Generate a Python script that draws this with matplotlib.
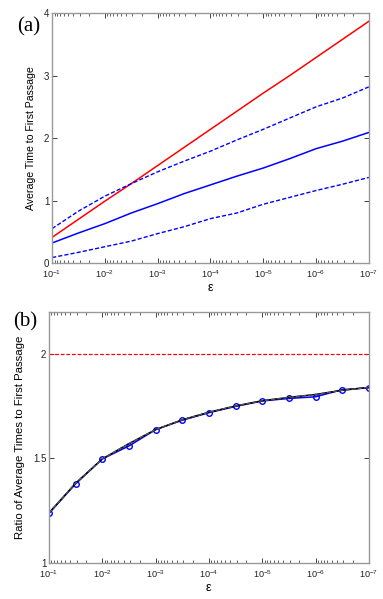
import matplotlib
matplotlib.use("Agg")
import matplotlib.pyplot as plt
import numpy as np
from matplotlib.ticker import NullFormatter, FixedLocator, FuncFormatter

plt.rcParams['font.family'] = ['Liberation Sans', 'DejaVu Sans']
plt.rcParams['mathtext.fontset'] = 'custom'
plt.rcParams['mathtext.rm'] = 'Liberation Sans'
plt.rcParams['mathtext.it'] = 'Liberation Sans:italic'
plt.rcParams['axes.unicode_minus'] = False

# epsilon values (10^-1 ... 10^-7 in half-decade steps)
eps_exp = [1, 1.5, 2, 2.5, 3, 3.5, 4, 4.5, 5, 5.5, 6, 6.5, 7]
eps = [10.0 ** (-e) for e in eps_exp]

# panel (a)
red_a = [0.41, 0.70, 0.99, 1.27, 1.56, 1.85, 2.14, 2.43, 2.72, 3.00, 3.29, 3.58, 3.87]
blue_mean = [0.32, 0.48, 0.63, 0.80, 0.95, 1.11, 1.25, 1.39, 1.52, 1.67, 1.83, 1.95, 2.09]
blue_upper = [0.55, 0.83, 1.07, 1.27, 1.46, 1.63, 1.79, 1.97, 2.14, 2.32, 2.50, 2.64, 2.82]
blue_lower = [0.087, 0.17, 0.26, 0.35, 0.47, 0.58, 0.71, 0.80, 0.94, 1.05, 1.16, 1.26, 1.37]

# panel (b)
ratio_blue = [1.238, 1.379, 1.498, 1.560, 1.638, 1.683, 1.719, 1.749, 1.775, 1.787, 1.795, 1.829, 1.838]
ratio_black = [1.240, 1.382, 1.498, 1.571, 1.638, 1.685, 1.721, 1.751, 1.776, 1.792, 1.806, 1.826, 1.840]
ratio_limit = 2.0

major_exp = [1, 2, 3, 4, 5, 6, 7]
major_ticks = [10.0 ** (-e) for e in major_exp]
minor_ticks = [m * 10.0 ** (-e) for e in range(2, 8) for m in range(2, 10)]

fig = plt.figure(figsize=(3.83, 5.99), dpi=100)
ax1 = fig.add_axes([0.136, 0.561, 0.827, 0.417])
ax2 = fig.add_axes([0.128, 0.060, 0.835, 0.419])

def fmt(v, pos):
    e = int(round(np.log10(v)))
    return r'$\mathregular{10^{%d}}$' % e

def style(ax):
    ax.set_xscale('log')
    ax.set_xlim(1e-1, 1e-7)
    ax.xaxis.set_major_locator(FixedLocator(major_ticks))
    ax.xaxis.set_major_formatter(FuncFormatter(fmt))
    ax.xaxis.set_minor_locator(FixedLocator(minor_ticks))
    ax.xaxis.set_minor_formatter(NullFormatter())
    ax.tick_params(which='both', direction='in', top=True, right=True, labelsize=7, colors='#222222')
    ax.tick_params(axis='x', labelsize=6.6)
    ax.tick_params(which='major', length=3.5, width=0.6)
    ax.tick_params(which='minor', length=2, width=0.5)
    ax.tick_params(axis='y', pad=2)
    for s in ax.spines.values():
        s.set_color('#999999')
        s.set_linewidth(1.0)
    ax.set_xlabel('ε', fontsize=9, labelpad=2)

ax1.plot(eps, red_a, color='red', lw=1.1)
ax1.plot(eps, blue_mean, color='blue', lw=1.1)
ax1.plot(eps, blue_upper, color='blue', lw=1.0, ls=(0, (3, 1.5)))
ax1.plot(eps, blue_lower, color='blue', lw=1.0, ls=(0, (3, 1.5)))
style(ax1)
ax1.set_ylim(0, 4)
ax1.yaxis.set_major_locator(FixedLocator([0, 1, 2, 3, 4]))
ax1.set_yticklabels(['0', '1', '2', '3', '4'])
ax1.set_ylabel('Average Time to First Passage', fontsize=7.6)
ax1.yaxis.set_label_coords(-0.052, 0.5)
fig.text(0.045, 0.955, '(a)', fontsize=15, family='Liberation Serif', va='center')

ax2.axhline(ratio_limit, color='red', lw=0.9, ls=(0, (3, 1.5)))
ax2.plot(eps, ratio_blue, color='blue', lw=1.1, marker='o', ms=4, mfc='none', mew=1.0)
ax2.plot(eps, ratio_black, color='black', lw=1.1)
ax2.plot(eps, ratio_black, color='#555555', lw=1.0, ls=(0, (3, 1.5)))
style(ax2)
ax2.set_ylim(1, 2.2)
ax2.yaxis.set_major_locator(FixedLocator([1, 1.5, 2]))
ax2.set_yticklabels(['1', '1.5', '2'])
ax2.set_ylabel('Ratio of Average Times to First Passage', fontsize=8.2)
ax2.yaxis.set_label_coords(-0.075, 0.5)
fig.text(0.035, 0.462, '(b)', fontsize=15, family='Liberation Serif', va='center')

fig.savefig('out.png', dpi=100)
